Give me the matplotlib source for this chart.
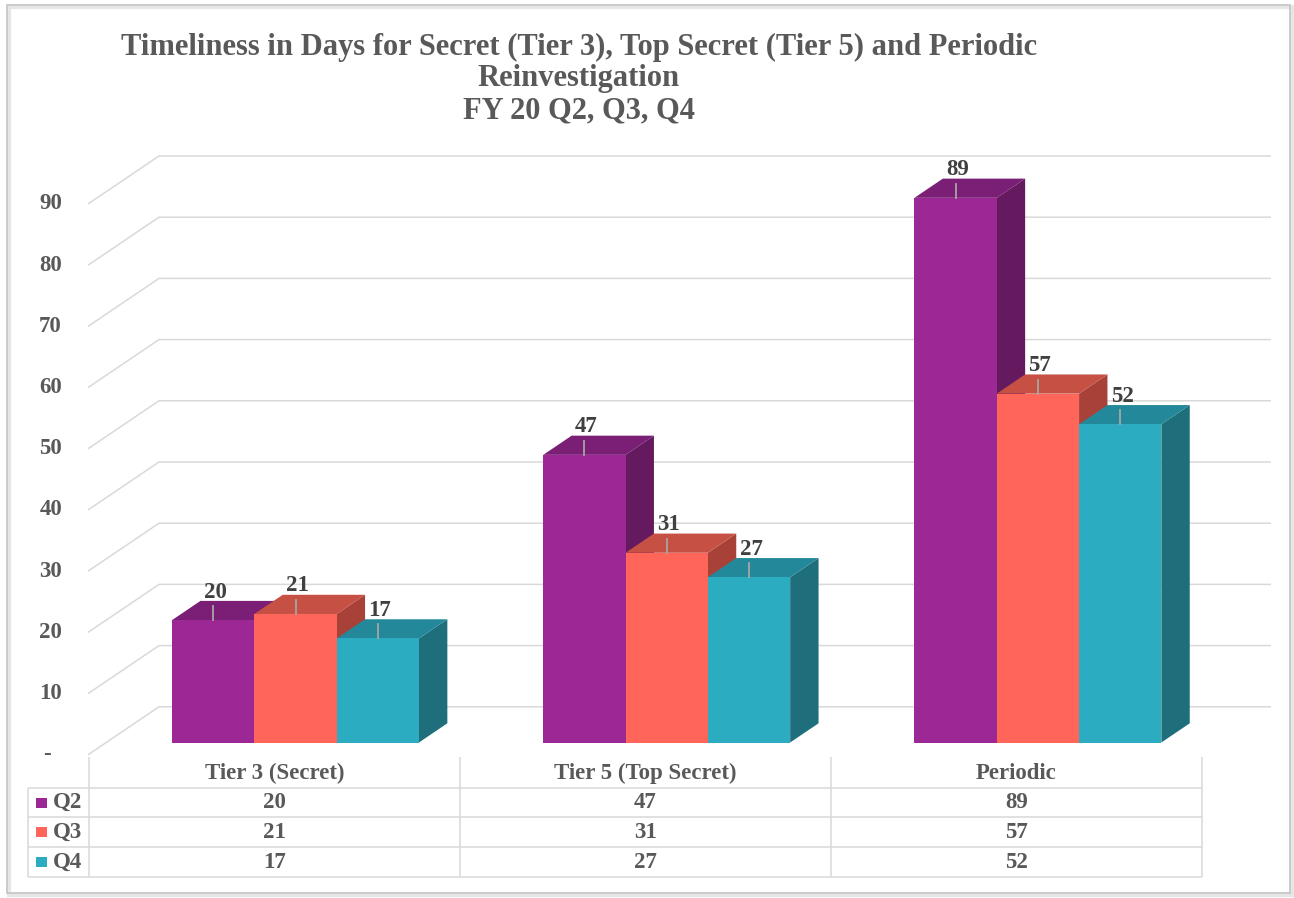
import matplotlib
matplotlib.use("Agg")
import matplotlib.pyplot as plt
from matplotlib.patches import Polygon, Rectangle

categories = ["Tier 3 (Secret)", "Tier 5 (Top Secret)", "Periodic"]
quarters = ["Q2", "Q3", "Q4"]
q2 = [20, 47, 89]
q3 = [21, 31, 57]
q4 = [17, 27, 52]
series = [q2, q3, q4]
yticks = [0, 10, 20, 30, 40, 50, 60, 70, 80, 90]
ytick_labels = ["-", "10", "20", "30", "40", "50", "60", "70", "80", "90"]
title_lines = ["Timeliness in Days for Secret (Tier 3), Top Secret (Tier 5) and Periodic",
               "Reinvestigation",
               "FY 20 Q2, Q3, Q4"]

front_colors = ["#9C2896", "#FF6659", "#2BACC1"]
top_colors   = ["#7A1F75", "#C75045", "#23899A"]
side_colors  = ["#651A5F", "#A84238", "#1E6F7B"]
text_color = "#595959"
grid_color = "#D9D9D9"

plt.rcParams["font.family"] = ["Liberation Serif", "DejaVu Serif"]
plt.rcParams["font.weight"] = "bold"

W_PX, H_PX = 1294, 898
PX_X, PX_Y = 371.2, 6.12          # pixels per category / per day
X0_PX, Y0_PX = 295.5, 742.5       # first group centre, zero line (front plane)

fig = plt.figure(figsize=(W_PX / 100, H_PX / 100), dpi=100)
ax = fig.add_axes([0, 0, 1, 1])
ax.set_xlim(-X0_PX / PX_X, (W_PX - X0_PX) / PX_X)
ax.set_ylim((Y0_PX - H_PX) / PX_Y, Y0_PX / PX_Y)
ax.axis("off")

# oblique depth: z=0 label plane, z=1 back wall
DX, DY = 71 / PX_X, 48 / PX_Y
Z_F, Z_B = 0.256, 0.656


def proj(x, v, z):
    return x + (z - Z_F) * DX, v + (z - Z_F) * DY


# walls / gridlines
x_left = (88 - X0_PX) / PX_X + Z_F * DX
x_right = (1271 - X0_PX) / PX_X - (1 - Z_F) * DX
for v, lab in zip(yticks, ytick_labels):
    pts = [proj(x_left, v, 0), proj(x_left, v, 1), proj(x_right, v, 1)]
    ax.plot([p[0] for p in pts], [p[1] for p in pts], color=grid_color,
            lw=1.1, solid_capstyle="butt", zorder=1)
    fx, fy = proj(x_left, v, 0)
    off = 37 if lab == "-" else 26
    ax.text(fx - off / PX_X, fy, lab, ha="right", va="center",
            fontsize=16.5, color=text_color)

# bars
bar_w = 82.3 / PX_X
for i in range(len(categories)):
    for j, vals in enumerate(series):
        v = vals[i]
        left = i + (j - 1.5) * bar_w
        right = left + bar_w
        side = [proj(right, 0, Z_F), proj(right, v, Z_F),
                proj(right, v, Z_B), proj(right, 0, Z_B)]
        top = [proj(left, v, Z_F), proj(right, v, Z_F),
               proj(right, v, Z_B), proj(left, v, Z_B)]
        ax.add_patch(Polygon(side, closed=True, facecolor=side_colors[j],
                             edgecolor="none", zorder=2))
        ax.add_patch(Polygon(top, closed=True, facecolor=top_colors[j],
                             edgecolor="none", zorder=2))
        ax.add_patch(Rectangle((left, 0), bar_w, v, facecolor=front_colors[j],
                               edgecolor="none", zorder=2))
        cx = left + bar_w / 2
        ax.plot([cx, cx], [v, v + 14 / PX_Y], color="#A6A6A6", lw=1.3, zorder=3)
        ax.text(cx + 2 / PX_X, v + 28 / PX_Y, str(v), ha="center", va="center",
                fontsize=16.5, color="#404040", zorder=4)

# title
for line, base in zip(title_lines, [55, 86, 118]):
    fig.text(579 / W_PX, 1 - base / H_PX, line, ha="center", va="baseline",
             fontsize=22, color=text_color)

# data table (pixel layout)
tab = fig.add_axes([0, 0, 1, 1])
tab.set_xlim(0, W_PX)
tab.set_ylim(H_PX, 0)
tab.axis("off")
tab.patch.set_visible(False)

col_edges = [89, 460, 831, 1202]
row_edges = [757, 788, 817, 847, 877]
legend_left = 28
lc = dict(color=grid_color, lw=1.1, solid_capstyle="butt")
for xe in col_edges:
    tab.plot([xe, xe], [row_edges[0], row_edges[-1]], **lc)
tab.plot([legend_left, legend_left], [row_edges[1], row_edges[-1]], **lc)
for ye in row_edges[1:]:
    tab.plot([legend_left, col_edges[-1]], [ye, ye], **lc)

for c, name in enumerate(categories):
    cx = (col_edges[c] + col_edges[c + 1]) / 2
    tab.text(cx, (row_edges[0] + row_edges[1]) / 2 + 1, name, ha="center",
             va="center", fontsize=16.5, color=text_color)
for r, (q, vals) in enumerate(zip(quarters, series)):
    cy = (row_edges[r + 1] + row_edges[r + 2]) / 2
    tab.add_patch(Rectangle((36, cy - 5), 11, 10, facecolor=front_colors[r],
                            edgecolor="none"))
    tab.text(53, cy, q, ha="left", va="center", fontsize=16.5, color=text_color)
    for c, v in enumerate(vals):
        cx = (col_edges[c] + col_edges[c + 1]) / 2
        tab.text(cx, cy, str(v), ha="center", va="center", fontsize=16.5,
                 color=text_color)

# chart frame with soft shadow
tab.add_patch(Rectangle((9, 7), 1283, 888, facecolor="none",
                        edgecolor="#E6E6E6", lw=3))
tab.add_patch(Rectangle((7, 5), 1283, 888, facecolor="none",
                        edgecolor="#C4C4C4", lw=1.2))

fig.savefig("out.png", dpi=100)
